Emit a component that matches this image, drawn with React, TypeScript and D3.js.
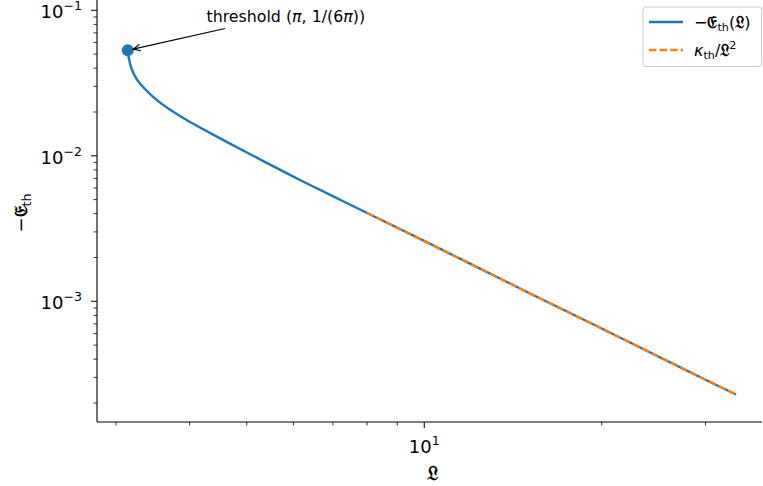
import React from "react";
import * as d3 from "d3";

// ---- data ----
const curveL = [3.1416, 3.157, 3.19, 3.253, 3.338, 3.45, 3.587, 3.753, 3.954, 4.165, 4.744, 5.404, 6.155, 7.012, 7.985, 10, 15, 20, 25, 30, 33.8];
const curveE = [0.05305, 0.0462, 0.0395, 0.0337, 0.02956, 0.02593, 0.02274, 0.02009, 0.01762, 0.01566, 0.01179, 0.00895, 0.00682, 0.00526, 0.00406, 0.0026, 0.00115, 0.00065, 0.000416, 0.000289, 0.000229];
const asymL = [7.985, 12, 16, 20, 25, 30, 33.8];
const asymE = [0.00406, 0.0018, 0.00101, 0.00065, 0.000416, 0.000289, 0.000229];
const thresholdL = Math.PI;
const thresholdE = 1 / (6 * Math.PI);
const xMajor = [10];
const xMinor = [3, 4, 5, 6, 7, 8, 9, 20, 30];
const yMajor = [1e-1, 1e-2, 1e-3];
const yMajorExp = ["−1", "−2", "−3"];
const xMajorExp = ["1"];

const W = 763, H = 486;
const left = 97, right = 762, top = 0, bottom = 422;
const yMin = 1.481e-4, yMax = 0.1177;
const x = d3.scaleLog().domain([2.786, 37.4]).range([left, right]);
const y = d3.scaleLog().domain([yMin, yMax]).range([bottom, top]);

const yMinor: number[] = [];
[1e-4, 1e-3, 1e-2].forEach((b) => {
  for (let k = 2; k <= 9; k++) {
    const v = b * k;
    if (v >= yMin && v <= yMax) yMinor.push(v);
  }
});

const BLUE = "#1f77b4";
const ORANGE = "#ff7f0e";
const FONT = "DejaVu Sans, sans-serif";

export default function App() {
  const line = d3
    .line<number>()
    .x((_, i) => x(curveL[i]))
    .y((d) => y(d))
    .curve(d3.curveCatmullRom.alpha(0.5));
  const lineA = d3
    .line<number>()
    .x((_, i) => x(asymL[i]))
    .y((d) => y(d));

  const tx = x(thresholdL);
  const ty = y(thresholdE);
  // annotation arrow
  const ax0 = 225, ay0 = 28.5;
  const ang = Math.atan2(ay0 - ty, ax0 - tx);
  const tipX = tx + 5.5 * Math.cos(ang);
  const tipY = ty + 5.5 * Math.sin(ang);
  const ah = 8, aw = 0.42;
  const h1 = [tipX + ah * Math.cos(ang + aw), tipY + ah * Math.sin(ang + aw)];
  const h2 = [tipX + ah * Math.cos(ang - aw), tipY + ah * Math.sin(ang - aw)];

  return (
    <svg
      width={W}
      height={H}
      style={{ position: "absolute", left: 0, top: 0, background: "#fff" }}
      fontFamily={FONT}
    >
      <rect x={0} y={0} width={W} height={H} fill="#fff" />
      {/* curve */}
      <path d={line(curveE) || ""} fill="none" stroke={BLUE} strokeWidth={2.4} />
      <path
        d={lineA(asymE) || ""}
        fill="none"
        stroke={ORANGE}
        strokeWidth={2.4}
        strokeDasharray="7.4 3.2"
      />
      <circle cx={tx} cy={ty} r={6} fill={BLUE} />

      {/* spines */}
      <line x1={left} y1={top} x2={left} y2={bottom} stroke="#000" strokeWidth={1.1} />
      <line x1={left} y1={bottom} x2={right} y2={bottom} stroke="#000" strokeWidth={1.1} />

      {/* y ticks */}
      {yMajor.map((v, i) => (
        <g key={"ym" + i}>
          <line x1={left - 6} x2={left} y1={y(v)} y2={y(v)} stroke="#000" strokeWidth={1} />
          <text x={left - 15} y={y(v) + 8} fontSize={18} textAnchor="end">
            10
            <tspan fontSize={12.6} dy={-8}>{yMajorExp[i]}</tspan>
          </text>
        </g>
      ))}
      {yMinor.map((v, i) => (
        <line key={"yn" + i} x1={left - 3.5} x2={left} y1={y(v)} y2={y(v)} stroke="#000" strokeWidth={0.8} />
      ))}

      {/* x ticks */}
      {xMajor.map((v, i) => (
        <g key={"xm" + i}>
          <line x1={x(v)} x2={x(v)} y1={bottom} y2={bottom + 6} stroke="#000" strokeWidth={1} />
          <text x={x(v)} y={bottom + 31} fontSize={18} textAnchor="middle">
            10
            <tspan fontSize={12.6} dy={-8.5}>{xMajorExp[i]}</tspan>
          </text>
        </g>
      ))}
      {xMinor.map((v, i) => (
        <line key={"xn" + i} x1={x(v)} x2={x(v)} y1={bottom} y2={bottom + 3.5} stroke="#000" strokeWidth={0.8} />
      ))}

      {/* axis labels */}
      <text x={(left + right) / 2 + 3} y={480} fontSize={19} fontWeight="bold" textAnchor="middle">
        𝔏
      </text>
      <g transform={`translate(27, 213) rotate(-90)`}>
        <text x={0} y={0} fontSize={18} textAnchor="middle">
          −<tspan fontWeight="bold">𝔈</tspan>
          <tspan fontSize={12.6} dy={4}>th</tspan>
        </text>
      </g>

      {/* annotation */}
      <line x1={ax0} y1={ay0} x2={tipX} y2={tipY} stroke="#000" strokeWidth={1.2} />
      <polyline
        points={`${h1[0]},${h1[1]} ${tipX},${tipY} ${h2[0]},${h2[1]}`}
        fill="none"
        stroke="#000"
        strokeWidth={1.2}
      />
      <text x={206.5} y={21.5} fontSize={15.8}>
        threshold (<tspan fontStyle="italic">π</tspan>, 1/(6<tspan fontStyle="italic">π</tspan>))
      </text>

      {/* legend */}
      <rect x={643} y={7} width={118.5} height={59.5} rx={3} fill="#fff" fillOpacity={0.8} stroke="#cccccc" strokeWidth={1} />
      <line x1={649} x2={683} y1={22} y2={22} stroke={BLUE} strokeWidth={2.4} />
      <line x1={649} x2={683} y1={50} y2={50} stroke={ORANGE} strokeWidth={2.4} strokeDasharray="7.4 3.2" />
      <text x={694} y={27.5} fontSize={16}>
        −<tspan fontWeight="bold">𝔈</tspan>
        <tspan fontSize={11.2} dy={3}>th</tspan>
        <tspan dy={-3}>(</tspan>
        <tspan fontWeight="bold">𝔏</tspan>
        <tspan>)</tspan>
      </text>
      <text x={694} y={55.5} fontSize={16}>
        <tspan fontStyle="italic">κ</tspan>
        <tspan fontSize={11.2} dy={3}>th</tspan>
        <tspan dy={-3}>/</tspan>
        <tspan fontWeight="bold">𝔏</tspan>
        <tspan fontSize={11.2} dy={-7}>2</tspan>
      </text>
    </svg>
  );
}
